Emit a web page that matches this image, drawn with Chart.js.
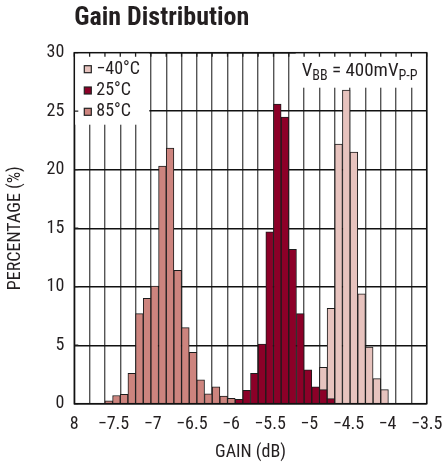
<!DOCTYPE html>
<html>
<head>
<meta charset="utf-8">
<script src="https://cdn.jsdelivr.net/npm/chart.js@4.4.1/dist/chart.umd.min.js"></script>
<style>
  html, body { margin: 0; padding: 0; background: #fff; }
  #wrap { width: 443px; height: 463px; }
</style>
</head>
<body>
<div id="wrap"><canvas id="chart"></canvas></div>
<script>
const X_MIN = -8;
const X_MAX = -3.5;
const GRID_DIVISIONS = 23;

const xTickLabels = ['8', '\u22127.5', '\u22127', '\u22126.5', '\u22126', '\u22125.5', '\u22125', '\u22124.5', '\u22124', '\u22123.5'];
const yTickLabels = ['0', '5', '10', '15', '20', '25', '30'];

// bin centres (dB) and percentages
const gain85 = [-7.5598, -7.4620, -7.3641, -7.2663, -7.1685, -7.0707, -6.9728, -6.8750, -6.7772,
  -6.6793, -6.5815, -6.4837, -6.3859, -6.2880, -6.1902, -6.0924, -5.9946];
const pct85 = [0.25, 0.7, 0.8, 2.6, 7.7, 9.0, 10.05, 20.3, 21.85, 11.4, 6.5, 4.4, 2.05, 0.85, 1.45, 0.65, 0.45];

const gain25 = [-5.8967, -5.7989, -5.7011, -5.6033, -5.5054, -5.4076, -5.3098, -5.2120, -5.1141,
  -5.0163, -4.9185, -4.8207, -4.7228];
const pct25 = [0.37, 1.15, 2.6, 5.1, 14.7, 25.6, 24.5, 13.2, 7.7, 2.9, 1.45, 1.2, 0.43];

const gainM40 = [-4.8207, -4.7228, -4.6250, -4.5272, -4.4293, -4.3315, -4.2337, -4.1359, -4.0380];
const pctM40 = [3.1, 8.15, 22.2, 26.8, 21.5, 9.4, 4.85, 2.15, 1.2];

const FONT = "'Liberation Sans Narrow', 'Roboto Condensed', 'DejaVu Sans Condensed', 'Liberation Sans', sans-serif";
const INK = '#231f20';

function toPoints(xs, ys) {
  return xs.map((x, i) => ({ x, y: ys[i] }));
}

function series(label, xs, ys, color, order) {
  return {
    label,
    data: toPoints(xs, ys),
    backgroundColor: color,
    borderColor: '#1c1c1c',
    borderWidth: 1,
    borderSkipped: 'start',
    grouped: false,
    barPercentage: 1,
    categoryPercentage: 1,
    order
  };
}

const datasets = [
  series('\u221240\u00b0C', gainM40, pctM40, '#e7c3be', 1),
  series('25\u00b0C', gain25, pct25, '#8c0028', 0),
  series('85\u00b0C', gain85, pct85, '#cd847e', 2)
];

// keep the label axis from pulling the plot edges in
function noEdgePadding(scale) {
  scale.paddingLeft = 0;
  scale.paddingRight = 0;
}

const overlay = {
  id: 'overlay',
  beforeDatasetsDraw(chart) {
    const { ctx, chartArea: a, scales } = chart;
    ctx.save();
    ctx.fillStyle = '#fff';
    ctx.fillRect(a.left, a.top, 75, 72);
    ctx.fillRect(a.right - 131, a.top, 131, 35);

    ctx.strokeStyle = '#222';
    ctx.lineWidth = 1.3;
    ctx.beginPath();
    for (const t of scales.x.ticks) {
      const px = scales.x.getPixelForValue(t.value);
      ctx.moveTo(px, a.top);
      ctx.lineTo(px, a.top + 4);
    }
    for (const t of scales.y.ticks) {
      const py = scales.y.getPixelForValue(t.value);
      ctx.moveTo(a.left, py);
      ctx.lineTo(a.left + 4, py);
    }
    ctx.stroke();
    ctx.restore();
  },
  afterDatasetsDraw(chart) {
    const { ctx, chartArea: a } = chart;
    ctx.save();
    ctx.strokeStyle = '#111';
    ctx.lineWidth = 1.5;
    ctx.strokeRect(a.left, a.top, a.right - a.left, a.bottom - a.top);

    // legend
    ctx.font = '18px ' + FONT;
    ctx.textBaseline = 'middle';
    chart.data.datasets.forEach((ds, i) => {
      const cy = a.top + 16.5 + i * 21.3;
      ctx.fillStyle = ds.backgroundColor;
      ctx.fillRect(a.left + 10, cy - 3.5, 7, 7);
      ctx.strokeStyle = '#222';
      ctx.lineWidth = 1.2;
      ctx.strokeRect(a.left + 10, cy - 3.5, 7, 7);
      ctx.fillStyle = INK;
      ctx.fillText(ds.label, a.left + 22, cy);
    });

    // V_BB annotation
    let x = a.right - 125;
    const base = a.top + 23.5;
    const parts = [['V', 19, 0], ['BB', 14, 4], [' = 400mV', 19, 0], ['P-P', 14, 4]];
    ctx.textBaseline = 'alphabetic';
    ctx.fillStyle = INK;
    for (const [txt, size, drop] of parts) {
      ctx.font = size + 'px ' + FONT;
      ctx.fillText(txt, x, base + drop);
      x += ctx.measureText(txt).width;
    }
    ctx.restore();
  }
};

new Chart(document.getElementById('chart'), {
  type: 'bar',
  data: { datasets },
  options: {
    responsive: true,
    maintainAspectRatio: false,
    animation: false,
    layout: { padding: { left: 0, right: 16.3, top: 0, bottom: 0 } },
    plugins: {
      legend: { display: false },
      tooltip: { enabled: false },
      title: {
        display: true,
        text: 'Gain Distribution',
        align: 'start',
        fullSize: false,
        color: INK,
        font: { family: FONT, size: 26, weight: 'bold' },
        padding: { top: 2.4, bottom: 19.1 }
      }
    },
    scales: {
      x: {
        type: 'linear',
        min: X_MIN,
        max: X_MAX,
        offset: false,
        afterBuildTicks(scale) {
          const step = (X_MAX - X_MIN) / GRID_DIVISIONS;
          const ticks = [];
          for (let k = 0; k <= GRID_DIVISIONS; k++) ticks.push({ value: X_MIN + k * step });
          scale.ticks = ticks;
        },
        afterFit(scale) {
          scale.height = 0;
          noEdgePadding(scale);
        },
        ticks: { display: false },
        grid: { color: '#555', lineWidth: 1.4, drawTicks: false, offset: false },
        border: { display: false }
      },
      xl: {
        type: 'linear',
        position: 'bottom',
        min: X_MIN,
        max: X_MAX,
        offset: false,
        afterFit(scale) {
          scale.height = 59.3;
          noEdgePadding(scale);
        },
        ticks: {
          stepSize: 0.5,
          autoSkip: false,
          maxRotation: 0,
          padding: 10,
          color: INK,
          font: { family: FONT, size: 18 },
          callback: (v, i) => xTickLabels[i]
        },
        grid: { display: false, drawTicks: false, offset: false },
        border: { display: false },
        title: {
          display: true,
          text: 'GAIN (dB)',
          color: INK,
          font: { family: FONT, size: 18 },
          padding: { top: 2, bottom: 0 }
        }
      },
      y: {
        min: 0,
        max: 30,
        afterFit(scale) { scale.width = 74.3; },
        ticks: {
          stepSize: 5,
          padding: 10,
          color: INK,
          font: { family: FONT, size: 18 },
          callback: (v, i) => yTickLabels[i]
        },
        grid: { color: '#111', lineWidth: 1.4, drawTicks: false },
        border: { display: false },
        title: {
          display: true,
          text: 'PERCENTAGE (%)',
          color: INK,
          font: { family: FONT, size: 18 },
          padding: { top: 5, bottom: 0 }
        }
      }
    }
  },
  plugins: [overlay]
});
</script>
</body>
</html>
